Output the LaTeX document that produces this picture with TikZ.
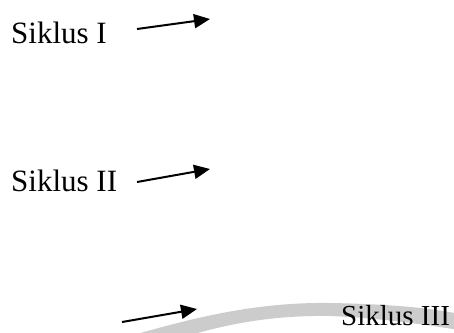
\documentclass[tikz,border=0pt]{standalone}
\usepackage{fontspec}
\setmainfont{Liberation Serif}
\usetikzlibrary{arrows.meta}
\begin{document}
\begin{tikzpicture}[x=1bp,y=-1bp,
  lbl/.style={anchor=base west,inner sep=0pt,font=\fontsize{31bp}{36bp}\selectfont},
  arr/.style={line width=2bp,-{Triangle[length=16bp,width=14bp]}},
  swoosh/.style={fill=gray!40,draw=none}]
\useasboundingbox (0,0) rectangle (454,332);
\begin{scope}
\clip (0,0) rectangle (454,332);
\path[swoosh] (137,334) .. controls (200,316) and (260,302) .. (330,303)
  .. controls (390,304) and (430,308) .. (460,314) -- (460,330)
  .. controls (420,324) and (380,318) .. (330,316)
  .. controls (270,315) and (220,325) .. (175,340) -- cycle;
\end{scope}
\node[lbl] (s1) at (11,43) {Siklus I};
\node[lbl] (s2) at (11,191) {Siklus II};
\node[lbl,font=\fontsize{29bp}{34bp}\selectfont] (s3) at (341,325) {Siklus III};
\coordinate (a1s) at (137,29);
\coordinate (a1e) at (210,19);
\coordinate (a2s) at (137,182);
\coordinate (a2e) at (210,169);
\coordinate (a3s) at (122,322);
\coordinate (a3e) at (197,309);
\draw[arr] (a1s) -- (a1e);
\draw[arr] (a2s) -- (a2e);
\draw[arr] (a3s) -- (a3e);
\end{tikzpicture}
\end{document}
